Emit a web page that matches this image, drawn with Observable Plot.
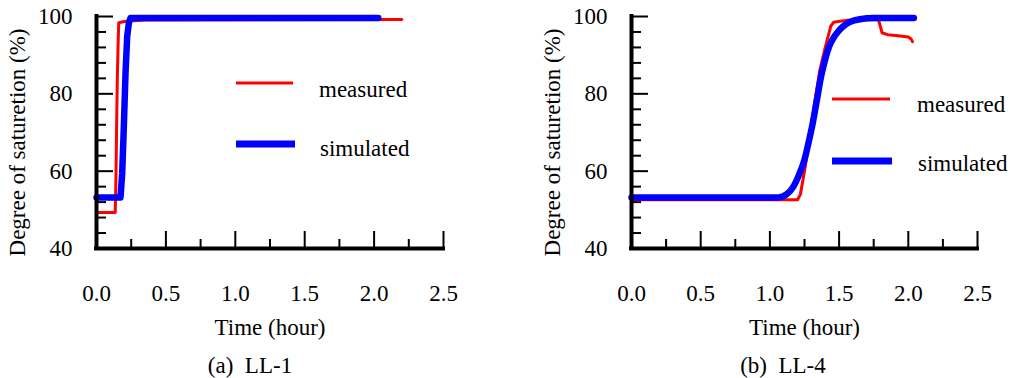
<!DOCTYPE html>
<html>
<head>
<script src="https://cdn.jsdelivr.net/npm/d3@7"></script>
<script src="https://cdn.jsdelivr.net/npm/@observablehq/plot@0.6"></script>
<style>
  html, body { margin: 0; padding: 0; background: #fff; }
  #page { position: relative; width: 1012px; height: 378px; overflow: hidden; }
  #wrap { display: flex; width: 1012px; height: 378px; }
  #caps { position: absolute; left: 0; top: 340px; }
</style>
</head>
<body>
<div id="page">
  <div id="wrap"></div>
  <svg id="caps" width="1012" height="38"><text x="250" y="33" text-anchor="middle" font-family="Liberation Serif" font-size="23" xml:space="preserve">(a)  LL-1</text><text x="783" y="33" text-anchor="middle" font-family="Liberation Serif" font-size="23" xml:space="preserve">(b)  LL-4</text></svg>
</div>
<script>
// ---- data ----
const ll1MeasuredTime = [0, 0.135, 0.14, 0.145, 0.15, 0.155, 0.16, 0.2, 0.35, 2.2];
const ll1MeasuredSat  = [49.3, 49.3, 58, 72, 84, 92, 98.4, 98.7, 99.1, 99.2];
const ll1SimTime = [0, 0.173, 0.185, 0.197, 0.209, 0.221, 0.233, 0.245, 2.03];
const ll1SimSat  = [53.2, 53.2, 59.4, 71.5, 85.3, 94.8, 98.3, 99.6, 99.6];

const ll4MeasuredTime = [0, 1.2, 1.22, 1.25, 1.28, 1.32, 1.36, 1.40, 1.44, 1.46, 1.55, 1.78, 1.79, 1.81, 1.85, 1.91, 2.0, 2.02, 2.03];
const ll4MeasuredSat  = [52.6, 52.6, 54, 60, 67, 77, 86, 92, 97.5, 98.5, 99, 99.2, 98.5, 95.8, 95.3, 95.1, 94.7, 94.2, 93.5];
const ll4SimTime = [0, 1.06, 1.12, 1.17, 1.21, 1.25, 1.28, 1.31, 1.34, 1.37, 1.40, 1.43, 1.46, 1.49, 1.53, 1.58, 1.65, 1.75, 2.04];
const ll4SimSat  = [53.2, 53.2, 54, 56, 59, 63, 67.5, 72.5, 78.5, 84.5, 89, 92.4, 94.5, 96, 97.5, 98.6, 99.3, 99.6, 99.6];

const xTickLabels = [0, 0.5, 1.0, 1.5, 2.0, 2.5];
const xMinorTicks = [0.25, 0.75, 1.25, 1.75, 2.25];
const yTickLabels = [40, 60, 80, 100];
const yMinorTicks = [44, 48, 52, 56, 64, 68, 72, 76, 84, 88, 92, 96];
const seriesNames = ["measured", "simulated"];
const yTitle = "Degree of saturetion (%)";
const xTitle = "Time (hour)";

const zip = (t, s) => t.map((d, i) => ({t: d, s: s[i]}));

const FONT = "Liberation Serif";
const FS = 23;
const H = 378, W = 506, MT = 16, MB = 130;

function panel({data, marginLeft, marginRight, legend}) {
  const plotW = W - marginLeft - marginRight;
  const plotH = H - MT - MB;
  const legendMark = () => {
    const g = d3.create("svg:g").attr("font-family", FONT).attr("font-size", FS).attr("text-anchor", "start");
    g.append("line").attr("x1", legend.x1).attr("x2", legend.x2).attr("y1", legend.y1).attr("y2", legend.y1)
      .attr("stroke", "#ff0000").attr("stroke-width", 3);
    g.append("line").attr("x1", legend.x1).attr("x2", legend.x2 + 2).attr("y1", legend.y2).attr("y2", legend.y2)
      .attr("stroke", "#0000ff").attr("stroke-width", 7);
    g.append("text").attr("x", legend.tx).attr("y", legend.b1).text(seriesNames[0]);
    g.append("text").attr("x", legend.tx + 1).attr("y", legend.b2).text(seriesNames[1]);
    return g.node();
  };
  const txt = {fontFamily: FONT, fontSize: FS};
  return Plot.plot({
    width: W, height: H,
    marginLeft, marginRight, marginTop: MT, marginBottom: MB,
    x: {domain: [0, 2.5]},
    y: {domain: [40, 100]},
    style: {fontFamily: FONT, fontSize: FS + "px"},
    marks: [
      Plot.axisX(xTickLabels, {tickSize: 0, tickPadding: 36, tickFormat: d3.format(".1f"), label: null, ...txt}),
      Plot.axisY(yTickLabels, {tickSize: 0, tickPadding: 24, label: null, ...txt}),
      Plot.ruleX(xMinorTicks, {insetTop: plotH - 9, strokeWidth: 2}),
      Plot.ruleX(xTickLabels.slice(1), {insetTop: plotH - 17, strokeWidth: 2}),
      Plot.ruleY(yMinorTicks, {insetRight: plotW - 10, strokeWidth: 2}),
      Plot.ruleY(yTickLabels.slice(1), {insetRight: plotW - 17, strokeWidth: 2}),
      Plot.line(data.measured, {x: "t", y: "s", stroke: "#ff0000", strokeWidth: 3}),
      Plot.line(data.simulated, {x: "t", y: "s", stroke: "#0000ff", strokeWidth: 6.5, curve: data.curve}),
      Plot.ruleX([0], {strokeWidth: 4, strokeLinecap: "square"}),
      Plot.ruleY([40], {strokeWidth: 4, strokeLinecap: "square"}),
      Plot.text([yTitle], {frameAnchor: "left", rotate: -90, dx: -79, dy: 10, textAnchor: "middle", lineAnchor: "middle", ...txt}),
      Plot.text([xTitle], {frameAnchor: "bottom", dy: 79, textAnchor: "middle", lineAnchor: "middle", ...txt}),
      legendMark
    ]
  });
}

const wrap = document.getElementById("wrap");
wrap.append(panel({
  data: {measured: zip(ll1MeasuredTime, ll1MeasuredSat), simulated: zip(ll1SimTime, ll1SimSat), curve: "linear"},
  marginLeft: 96, marginRight: 63,
  legend: {x1: 236, x2: 293, y1: 83, y2: 144, tx: 319, b1: 97, b2: 156}
}));
wrap.append(panel({
  data: {measured: zip(ll4MeasuredTime, ll4MeasuredSat), simulated: zip(ll4SimTime, ll4SimSat), curve: "monotone-x"},
  marginLeft: 125, marginRight: 35,
  legend: {x1: 326, x2: 384, y1: 99, y2: 161, tx: 411, b1: 112, b2: 171}
}));
</script>
</body>
</html>
